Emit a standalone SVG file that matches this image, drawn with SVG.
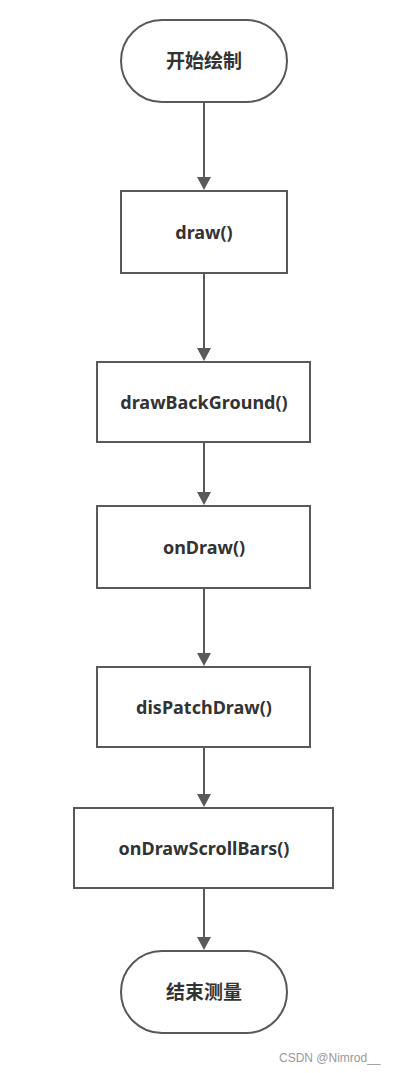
<svg xmlns="http://www.w3.org/2000/svg" width="397" height="1073" viewBox="0 0 397 1073">
<style>
.n{fill:#fff;stroke:#595959;stroke-width:2}
.t{font-family:"Noto Sans","Noto Sans CJK SC",sans-serif;font-size:18px;font-weight:bold;fill:#333;text-anchor:middle;dominant-baseline:central}
.z{font-size:19px}
.c{stroke:#595959;stroke-width:2;fill:none}
.w{font-family:"Liberation Sans",Arial,sans-serif;font-size:12px;fill:#999}
</style>
<rect width="397" height="1073" fill="#fff"/>
<g id="connectors">
<line class="c" x1="204" y1="102" x2="204" y2="177"/>
<path d="M197,177 L211,177 L204,190 Z" fill="#595959"/>
<line class="c" x1="204" y1="273" x2="204" y2="348"/>
<path d="M197,348 L211,348 L204,361 Z" fill="#595959"/>
<line class="c" x1="204" y1="442" x2="204" y2="492"/>
<path d="M197,492 L211,492 L204,505 Z" fill="#595959"/>
<line class="c" x1="204" y1="588" x2="204" y2="653"/>
<path d="M197,653 L211,653 L204,666 Z" fill="#595959"/>
<line class="c" x1="204" y1="747" x2="204" y2="794"/>
<path d="M197,794 L211,794 L204,807 Z" fill="#595959"/>
<line class="c" x1="204" y1="888" x2="204" y2="937"/>
<path d="M197,937 L211,937 L204,950 Z" fill="#595959"/>
</g>
<g id="start">
<rect class="n" x="121" y="20" width="166" height="82" rx="41" ry="41"/>
<text class="t z" x="204" y="61">开始绘制</text>
</g>
<g id="draw">
<rect class="n" x="121" y="191" width="166" height="82"/>
<text class="t" x="204" y="232">draw()</text>
</g>
<g id="drawBackGround">
<rect class="n" x="97" y="362" width="213" height="80"/>
<text class="t" x="204" y="402">drawBackGround()</text>
</g>
<g id="onDraw">
<rect class="n" x="97" y="506" width="213" height="82"/>
<text class="t" x="204" y="547">onDraw()</text>
</g>
<g id="disPatchDraw">
<rect class="n" x="97" y="667" width="213" height="80"/>
<text class="t" x="204" y="707">disPatchDraw()</text>
</g>
<g id="onDrawScrollBars">
<rect class="n" x="74" y="808" width="259" height="80"/>
<text class="t" x="204" y="848">onDrawScrollBars()</text>
</g>
<g id="end">
<rect class="n" x="121" y="951" width="166" height="82" rx="41" ry="41"/>
<text class="t z" x="204" y="992">结束测量</text>
</g>
<text class="w" x="279" y="1062">CSDN @Nimrod__</text>
</svg>
